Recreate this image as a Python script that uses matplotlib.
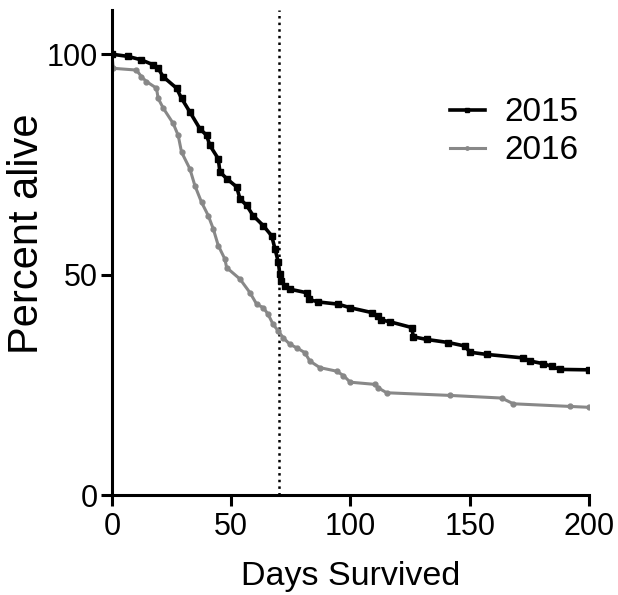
import matplotlib
matplotlib.use("Agg")
import matplotlib.pyplot as plt

# survival readings (days, percent alive)
days_2015 = [0, 6.8, 12.4, 17.3, 19.4, 21.5, 27.1, 29.2, 32.7, 36.9, 39.7, 41.1, 44.6,
             45.3, 48.1, 52.3, 53.7, 56.5, 59.2, 63.5, 67.0, 68.4, 69.8, 70.4, 70.9,
             72.5, 74.6, 81.6, 82.5, 86.5, 94.9, 99.8, 108.9, 111.6, 113.0, 116.6,
             125.7, 126.4, 131.9, 141.0, 148.0, 150.1, 157.1, 172.5, 175.3, 180.8,
             184.3, 187.8, 200]
alive_2015 = [100, 99.5, 98.7, 97.6, 96.8, 94.9, 92.3, 90.0, 86.9, 83.1, 81.6, 79.3, 76.3,
              73.3, 71.8, 69.9, 67.2, 65.7, 63.4, 61.1, 58.8, 55.8, 52.8, 50.1, 48.6,
              47.5, 46.7, 45.9, 44.4, 43.8, 43.3, 42.5, 41.4, 40.6, 39.7, 39.3,
              38.0, 35.9, 35.3, 34.6, 33.8, 32.4, 31.9, 31.1, 30.4, 29.8,
              29.2, 28.5, 28.4]

days_2016 = [0, 0.6, 10.3, 12.4, 14.5, 18.7, 19.4, 21.5, 25.7, 27.8, 29.2, 32.7, 34.8,
             37.6, 40.4, 42.5, 44.6, 47.4, 48.1, 53.7, 57.9, 60.7, 63.5, 65.5, 67.6,
             69.8, 71.8, 74.6, 77.5, 80.9, 83.0, 87.2, 94.2, 97.1, 99.9, 110.3, 111.7,
             115.2, 141.7, 163.4, 168.3, 192.0, 200]
alive_2016 = [100, 96.8, 96.4, 94.9, 93.8, 92.3, 90.0, 87.8, 84.3, 81.6, 77.8, 74.0, 70.2,
              66.4, 63.4, 60.4, 56.6, 53.5, 51.6, 49.0, 45.9, 43.3, 42.5, 41.0, 38.7,
              37.2, 35.7, 34.2, 33.4, 32.3, 30.4, 28.9, 28.1, 27.1, 25.6, 25.1, 24.3,
              23.2, 22.6, 22.0, 20.7, 20.1, 19.9]

cutoff_day = 70

plt.rcParams["font.family"] = ["Liberation Sans", "DejaVu Sans"]

fig = plt.figure(figsize=(6.18, 5.95), dpi=100)
ax = fig.add_axes([0.181, 0.168, 0.772, 0.815])

ax.plot(days_2015, alive_2015, color="black", lw=2.6, marker="s", ms=4.5,
        label="2015", zorder=3)
ax.plot(days_2016, alive_2016, color="#888888", lw=2.2, marker="o", ms=3.5,
        label="2016", zorder=2)
ax.axvline(cutoff_day, color="black", ls=":", lw=1.8, zorder=1)

ax.set_xlim(0, 200)
ax.set_ylim(0, 110)
ax.set_xticks([0, 50, 100, 150, 200])
ax.set_yticks([0, 50, 100])
for s in ["top", "right"]:
    ax.spines[s].set_visible(False)
for s in ["left", "bottom"]:
    ax.spines[s].set_linewidth(2.2)
ax.tick_params(width=2.2, length=8, labelsize=22)
ax.tick_params(axis="x", pad=4)
ax.tick_params(axis="y", pad=2)

ax.set_xlabel("Days Survived", fontsize=24.5, labelpad=14)
ax.set_ylabel("Percent alive", fontsize=30)
ax.yaxis.set_label_coords(-0.135, 0.538)

ax.legend(loc="upper right", bbox_to_anchor=(1.042, 0.882), frameon=False,
          fontsize=24, handlelength=1.05, handletextpad=0.6, labelspacing=0.21,
          markerscale=0.7)

fig.savefig("out.png", dpi=100)
